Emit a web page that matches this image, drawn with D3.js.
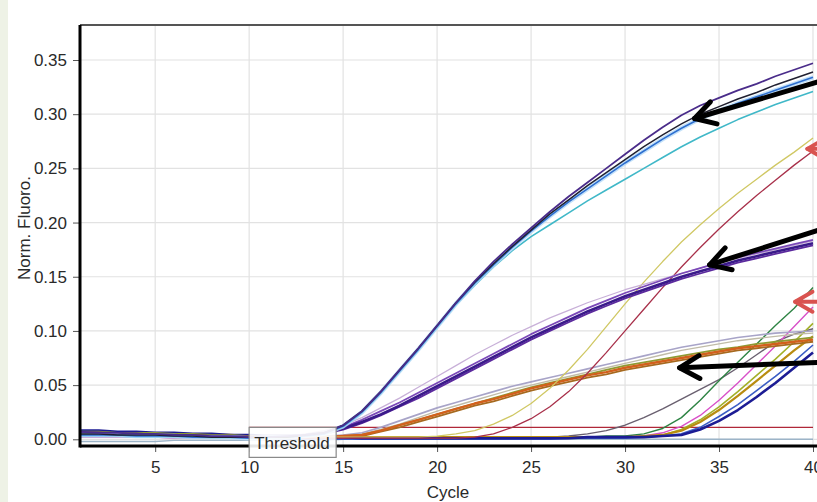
<!DOCTYPE html>
<html>
<head>
<meta charset="utf-8">
<script src="https://cdn.jsdelivr.net/npm/d3@7"></script>
<style>
  body { margin: 0; background: #fff; }
  svg text { font-family: "Liberation Sans", Arial, sans-serif; fill: #2a2a2a; }
</style>
</head>
<body>
<svg id="chart" width="817" height="502"></svg>
<script>
// cycle numbers on the x axis
const cycles = [1,2,3,4,5,6,7,8,9,10,11,12,13,14,15,16,17,18,19,20,
  21,22,23,24,25,26,27,28,29,30,31,32,33,34,35,36,37,38,39,40];
const xTicks = [5, 10, 15, 20, 25, 30, 35, 40];
const yTicks = [0, 0.05, 0.10, 0.15, 0.20, 0.25, 0.30, 0.35];
const threshold = 0.011;

// early group (top)
const topPurple = [0.007,0.006,0.006,0.005,0.005,0.004,0.004,0.003,0.003,0.002,0.002,0.003,0.004,
  0.006,0.013,0.026,0.044,0.064,0.084,0.105,0.126,0.146,0.164,0.18,0.195,0.21,0.224,0.237,0.25,0.263,0.276,0.288,0.299,0.308,0.315,0.322,0.328,0.335,0.341,0.347];
const topBlack = [0.005,0.005,0.004,0.004,0.004,0.003,0.003,0.002,0.002,0.002,0.002,0.002,0.004,
  0.006,0.013,0.026,0.044,0.064,0.084,0.105,0.126,0.145,0.162,0.178,0.193,0.208,0.221,0.234,0.246,0.258,0.27,0.281,0.291,0.3,0.307,0.314,0.32,0.327,0.333,0.339];
const topBlue = [0.004,0.004,0.004,0.003,0.003,0.003,0.002,0.002,0.002,0.001,0.002,0.002,0.003,
  0.005,0.012,0.025,0.043,0.063,0.083,0.104,0.125,0.144,0.161,0.177,0.192,0.206,0.219,0.231,0.243,0.255,0.266,0.277,0.287,0.296,0.303,0.31,0.316,0.322,0.328,0.334];
const topCyan = [0.003,0.003,0.003,0.002,0.002,0.002,0.002,0.001,0.001,0.001,0.001,0.002,0.003,
  0.005,0.011,0.024,0.042,0.062,0.082,0.103,0.124,0.142,0.159,0.174,0.187,0.198,0.209,0.22,0.23,0.24,0.25,0.26,0.27,0.279,0.287,0.295,0.302,0.309,0.315,0.321];

// middle purple group
const midDark = [0.006,0.006,0.005,0.005,0.004,0.004,0.003,0.003,0.003,0.002,0.003,0.003,0.004,
  0.006,0.01,0.016,0.023,0.031,0.04,0.049,0.058,0.067,0.076,0.085,0.094,0.102,0.11,0.118,0.125,0.132,0.138,0.144,0.15,0.155,0.16,0.165,0.169,0.173,0.177,0.181];
const midPurple = [0.004,0.004,0.004,0.003,0.003,0.003,0.002,0.002,0.002,0.002,0.002,0.003,0.004,
  0.006,0.011,0.018,0.026,0.034,0.043,0.052,0.061,0.07,0.079,0.088,0.097,0.105,0.113,0.121,0.128,0.135,0.141,0.147,0.153,0.158,0.163,0.168,0.172,0.176,0.18,0.184];
const midViolet = [0.003,0.003,0.003,0.003,0.002,0.002,0.002,0.002,0.001,0.001,0.002,0.002,0.003,
  0.005,0.009,0.015,0.022,0.03,0.038,0.047,0.056,0.065,0.074,0.083,0.092,0.1,0.108,0.116,0.123,0.13,0.136,0.142,0.148,0.153,0.158,0.163,0.167,0.171,0.175,0.179];
const midLavender = [0.002,0.002,0.002,0.002,0.002,0.001,0.001,0.001,0.001,0.001,0.002,0.003,0.005,
  0.008,0.013,0.02,0.029,0.038,0.048,0.058,0.068,0.078,0.087,0.096,0.104,0.112,0.119,0.126,0.132,0.138,0.143,0.148,0.153,0.158,0.163,0.167,0.171,0.175,0.179,0.183];

// low plateau group
const lowGray = [0.005,0.005,0.004,0.004,0.004,0.003,0.003,0.003,0.002,0.002,0.002,0.002,0.002,0.003,0.004,
  0.006,0.011,0.017,0.023,0.029,0.034,0.039,0.044,0.049,0.053,0.057,0.061,0.065,0.069,0.073,0.077,0.081,0.085,0.088,0.091,0.094,0.096,0.098,0.099,0.1];
const lowLight = [0.003,0.003,0.003,0.003,0.002,0.002,0.002,0.002,0.002,0.002,0.001,0.001,0.002,0.002,0.003,
  0.005,0.009,0.014,0.02,0.026,0.031,0.036,0.041,0.046,0.05,0.054,0.058,0.062,0.066,0.07,0.074,0.078,0.082,0.085,0.088,0.091,0.093,0.095,0.097,0.098];
const lowOlive = [0.007,0.007,0.006,0.006,0.006,0.005,0.005,0.004,0.004,0.003,0.003,0.002,0.002,0.002,0.003,
  0.004,0.008,0.013,0.018,0.023,0.028,0.033,0.038,0.043,0.048,0.052,0.056,0.06,0.064,0.068,0.071,0.074,0.077,0.08,0.083,0.085,0.088,0.09,0.092,0.094];
const lowOrange = [0.004,0.004,0.004,0.003,0.003,0.003,0.003,0.002,0.002,0.002,0.002,0.002,0.002,0.002,0.003,
  0.004,0.008,0.013,0.018,0.023,0.028,0.033,0.037,0.042,0.047,0.051,0.055,0.059,0.062,0.066,0.069,0.072,0.075,0.078,0.081,0.084,0.086,0.088,0.09,0.092];
const lowBrown = [0.006,0.005,0.005,0.005,0.004,0.004,0.004,0.003,0.003,0.003,0.002,0.002,0.002,0.002,0.002,
  0.003,0.007,0.011,0.016,0.021,0.026,0.031,0.035,0.04,0.045,0.049,0.053,0.057,0.06,0.064,0.067,0.07,0.073,0.076,0.079,0.082,0.084,0.086,0.088,0.09];

// two steep curves
const steepYellow = [0.004,0.004,0.004,0.003,0.003,0.003,0.003,0.002,0.002,0.002,0.002,0.002,0.002,0.002,0.002,0.002,0.002,0.002,0.002,
  0.003,0.005,0.008,0.014,0.022,0.033,0.047,0.064,0.083,0.104,0.125,0.145,0.164,0.182,0.198,0.213,0.227,0.24,0.253,0.265,0.278];
const steepRed = [0.003,0.003,0.003,0.003,0.002,0.002,0.002,0.002,0.002,0.001,0.001,0.001,0.001,0.001,0.001,0.001,0.001,0.001,0.001,0.001,0.001,
  0.002,0.005,0.011,0.019,0.03,0.044,0.061,0.08,0.1,0.12,0.14,0.159,0.177,0.194,0.21,0.225,0.239,0.253,0.266];

// late risers
const lateGray = [0.004,0.004,0.003,0.003,0.003,0.002,0.002,0.002,0.002,0.001,
  0.001,0.001,0.001,0.001,0.001,0.001,0.001,0.001,0.001,0.001,
  0.001,0.001,0.001,0.002,0.002,0.002,
  0.003,0.005,0.008,0.013,0.02,0.028,0.037,0.046,0.055,0.066,0.078,0.09,0.097,0.102];
const lateGreen = [0.006,0.006,0.005,0.005,0.004,0.004,0.004,0.003,0.003,0.003,
  0.002,0.002,0.002,0.002,0.002,0.002,0.002,0.002,0.002,0.002,
  0.002,0.002,0.002,0.002,0.002,0.002,0.002,0.002,0.003,0.003,
  0.005,0.01,0.02,0.036,0.054,0.071,0.088,0.105,0.121,0.14];
const latePink = [0.002,0.002,0.002,0.002,0.002,0.001,0.001,0.001,0.001,0.001,
  0.001,0.001,0.001,0.001,0.001,0.001,0.001,0.001,0.001,0.001,
  0.001,0.001,0.001,0.001,0.001,0.001,0.001,0.002,0.002,0.002,
  0.003,
  0.006,0.012,0.022,0.036,0.052,0.069,0.086,0.104,0.122];
const lateOlive = [0.005,0.005,0.005,0.004,0.004,0.004,0.003,0.003,0.003,0.003,
  0.002,0.002,0.002,0.002,0.002,0.001,0.001,0.001,0.001,0.001,
  0.001,0.001,0.001,0.001,0.001,0.001,0.001,0.001,0.002,0.002,
  0.002,0.004,
  0.009,0.018,0.03,0.044,0.059,0.074,0.09,0.107];
const lateGold = [0.006,0.006,0.006,0.005,0.005,0.005,0.004,0.004,0.004,0.003,
  0.003,0.003,0.002,0.002,0.002,0.002,0.002,0.002,0.002,0.002,
  0.002,0.002,0.002,0.002,0.002,0.002,0.002,0.002,0.002,0.002,
  0.003,0.004,
  0.008,0.016,0.027,0.04,0.054,0.068,0.082,0.095];
const lateBlue = [0.003,0.003,0.003,0.003,0.002,0.002,0.002,0.002,0.002,0.001,
  0.001,0,0,0,0,0,0,0,0,0,
  0,0,0,0,0,0,0.001,0.001,0.001,0.001,
  0.002,0.003,0.005,
  0.011,0.021,0.032,0.045,0.058,0.072,0.087];
const lateNavy = [0.008,0.008,0.007,0.007,0.006,0.006,0.005,0.005,0.004,0.004,
  0.003,0.003,0.002,0.002,0.002,0.001,0.001,0.001,0.001,0.001,
  0.001,0.001,0.001,0.001,0.001,0.001,0.001,0.002,0.002,0.002,
  0.002,0.003,0.004,
  0.009,0.017,0.027,0.039,0.052,0.066,0.08];
const ntc = [-0.002,-0.002,-0.002,-0.002,-0.002,-0.001,-0.001,-0.001,-0.001,-0.001,
  -0.001,-0.001,-0.001,-0.001,0,0,0,0,0,0,
  0,0,0,0,0,0,0,0,0,0,
  0,0,0,0,0,0,0,0,0,0];

// annotation arrows, in data units (cycle, fluorescence)
const blackArrows = [
  {tip: [33.7, 0.296], tail: [40.3, 0.330]},
  {tip: [34.5, 0.161], tail: [40.3, 0.193]},
  {tip: [32.9, 0.066], tail: [40.3, 0.071]}
];
const redArrows = [
  {tip: [39.7, 0.268], tail: [41.0, 0.268]},
  {tip: [39.05, 0.127], tail: [41.0, 0.127]}
];

const series = [
  {v: ntc, c: "#9cb4c8", w: 1.4},
  {v: lateGray, c: "#6a6070", w: 1.4},
  {v: lateGreen, c: "#2e8444", w: 1.4},
  {v: latePink, c: "#d850c8", w: 1.4},
  {v: lateOlive, c: "#a2b028", w: 1.6},
  {v: lateGold, c: "#b88c10", w: 2.2},
  {v: lateBlue, c: "#3a5cc4", w: 1.6},
  {v: lateNavy, c: "#1c1c94", w: 2.6},
  {v: lowLight, c: "#c0bca8", w: 1.4},
  {v: lowGray, c: "#a8a4c8", w: 1.6},
  {v: lowOlive, c: "#8e9a32", w: 1.8},
  {v: lowBrown, c: "#a66a20", w: 1.8},
  {v: lowOrange, c: "#d2601c", w: 2.4},
  {v: steepYellow, c: "#d0c864", w: 1.3},
  {v: steepRed, c: "#a8304a", w: 1.3},
  {v: midLavender, c: "#c8b0d8", w: 1.3},
  {v: midPurple, c: "#7a48b8", w: 1.8},
  {v: midViolet, c: "#5c2a9e", w: 1.8},
  {v: midDark, c: "#3a1a8a", w: 2.6},
  {v: topCyan, c: "#40b8c8", w: 1.6},
  {v: topBlue, c: "#2e6fd0", w: 1.6, halo: "#b4daf8"},
  {v: topBlack, c: "#202030", w: 1.5},
  {v: topPurple, c: "#4a2c8a", w: 1.8}
];

const svg = d3.select("#chart");
const W = 817, H = 502;
const plotLeft = 80, plotTop = 25, plotBottom = 446;

const x = d3.scaleLinear().domain([1, 40]).range([plotLeft, 813]);
const y = d3.scaleLinear().domain([0, 0.35]).range([439.3, 60]);

// pale strip at the left edge
svg.append("rect").attr("x", 0).attr("y", 0).attr("width", 8).attr("height", H).attr("fill", "#eef2e6");

// grid
svg.append("g").selectAll("line").data(xTicks).join("line")
  .attr("x1", d => x(d)).attr("x2", d => x(d))
  .attr("y1", plotTop).attr("y2", plotBottom)
  .attr("stroke", "#e2e2e2").attr("stroke-width", 1.2);
svg.append("g").selectAll("line").data(yTicks).join("line")
  .attr("x1", plotLeft).attr("x2", W)
  .attr("y1", d => y(d)).attr("y2", d => y(d))
  .attr("stroke", "#e2e2e2").attr("stroke-width", 1.2);

svg.append("clipPath").attr("id", "plot")
  .append("rect").attr("x", plotLeft).attr("y", plotTop).attr("width", W - plotLeft).attr("height", plotBottom - plotTop);

const line = d3.line()
  .x((d, i) => x(cycles[i]))
  .y(d => y(d));

const curves = svg.append("g").attr("clip-path", "url(#plot)");

// threshold line
curves.append("line")
  .attr("x1", x(10)).attr("x2", x(40))
  .attr("y1", y(threshold)).attr("y2", y(threshold))
  .attr("stroke", "#b02838").attr("stroke-width", 1.3);

series.forEach(s => {
  if (s.halo) {
    curves.append("path").attr("d", line(s.v))
      .attr("fill", "none").attr("stroke", s.halo).attr("stroke-width", 4.5).attr("stroke-opacity", 0.8);
  }
  curves.append("path").attr("d", line(s.v))
    .attr("fill", "none")
    .attr("stroke", s.c)
    .attr("stroke-width", s.w)
    .attr("stroke-linejoin", "round");
});

// axes
const yAxis = svg.append("g").attr("transform", `translate(${plotLeft},0)`)
  .call(d3.axisLeft(y).tickValues(yTicks).tickFormat(d3.format(".2f")).tickSize(7).tickSizeOuter(0));
yAxis.select(".domain").remove();
yAxis.selectAll("line").attr("stroke", "#555");
yAxis.selectAll("text").attr("font-size", 17).attr("dx", "-3").attr("fill", "#333");

const xAxis = svg.append("g").attr("transform", `translate(0,${plotBottom})`)
  .call(d3.axisBottom(x).tickValues(xTicks).tickSize(6).tickSizeOuter(0));
xAxis.select(".domain").remove();
xAxis.selectAll("line").attr("stroke", "#555");
xAxis.selectAll("text").attr("font-size", 17).attr("dy", "1.05em").attr("fill", "#333");

// frame
svg.append("line").attr("x1", plotLeft).attr("x2", W).attr("y1", plotTop).attr("y2", plotTop)
  .attr("stroke", "#555").attr("stroke-width", 2);
svg.append("line").attr("x1", plotLeft).attr("x2", plotLeft).attr("y1", plotTop).attr("y2", plotBottom + 1.5)
  .attr("stroke", "#000").attr("stroke-width", 3);
svg.append("line").attr("x1", plotLeft).attr("x2", W).attr("y1", plotBottom).attr("y2", plotBottom)
  .attr("stroke", "#000").attr("stroke-width", 3);

// threshold label box
const tb = svg.append("g");
tb.append("rect").attr("x", x(10)).attr("y", y(threshold)).attr("width", 87).attr("height", 30)
  .attr("fill", "#fff").attr("fill-opacity", 0.9).attr("stroke", "#888").attr("stroke-width", 1.2);
tb.append("text").attr("x", x(10) + 5).attr("y", 449).attr("font-size", 17).attr("fill", "#222").text("Threshold");

// axis titles
svg.append("text").attr("x", 448).attr("y", 498).attr("text-anchor", "middle")
  .attr("font-size", 17).attr("fill", "#333").text("Cycle");
svg.append("text").attr("transform", "translate(30,228) rotate(-90)").attr("text-anchor", "middle")
  .attr("font-size", 17).attr("fill", "#333").text("Norm. Fluoro.");

// arrows
function drawArrow(a, color, width, armLen) {
  const tx = x(a.tip[0]), ty = y(a.tip[1]);
  const sx = x(a.tail[0]), sy = y(a.tail[1]);
  const ang = Math.atan2(sy - ty, sx - tx);
  const spread = 30 * Math.PI / 180;
  const p1 = [tx + armLen * Math.cos(ang - spread), ty + armLen * Math.sin(ang - spread)];
  const p2 = [tx + armLen * Math.cos(ang + spread), ty + armLen * Math.sin(ang + spread)];
  const g = svg.append("g").attr("fill", "none").attr("stroke", color)
    .attr("stroke-width", width).attr("stroke-linecap", "round").attr("stroke-linejoin", "round");
  g.append("line").attr("x1", tx).attr("y1", ty).attr("x2", sx).attr("y2", sy);
  g.append("polyline").attr("points", [p1, [tx, ty], p2].map(p => p.join(",")).join(" "));
}
blackArrows.forEach(a => drawArrow(a, "#000", 5, 23));
redArrows.forEach(a => drawArrow(a, "#d9534f", 4, 20));
</script>
</body>
</html>
